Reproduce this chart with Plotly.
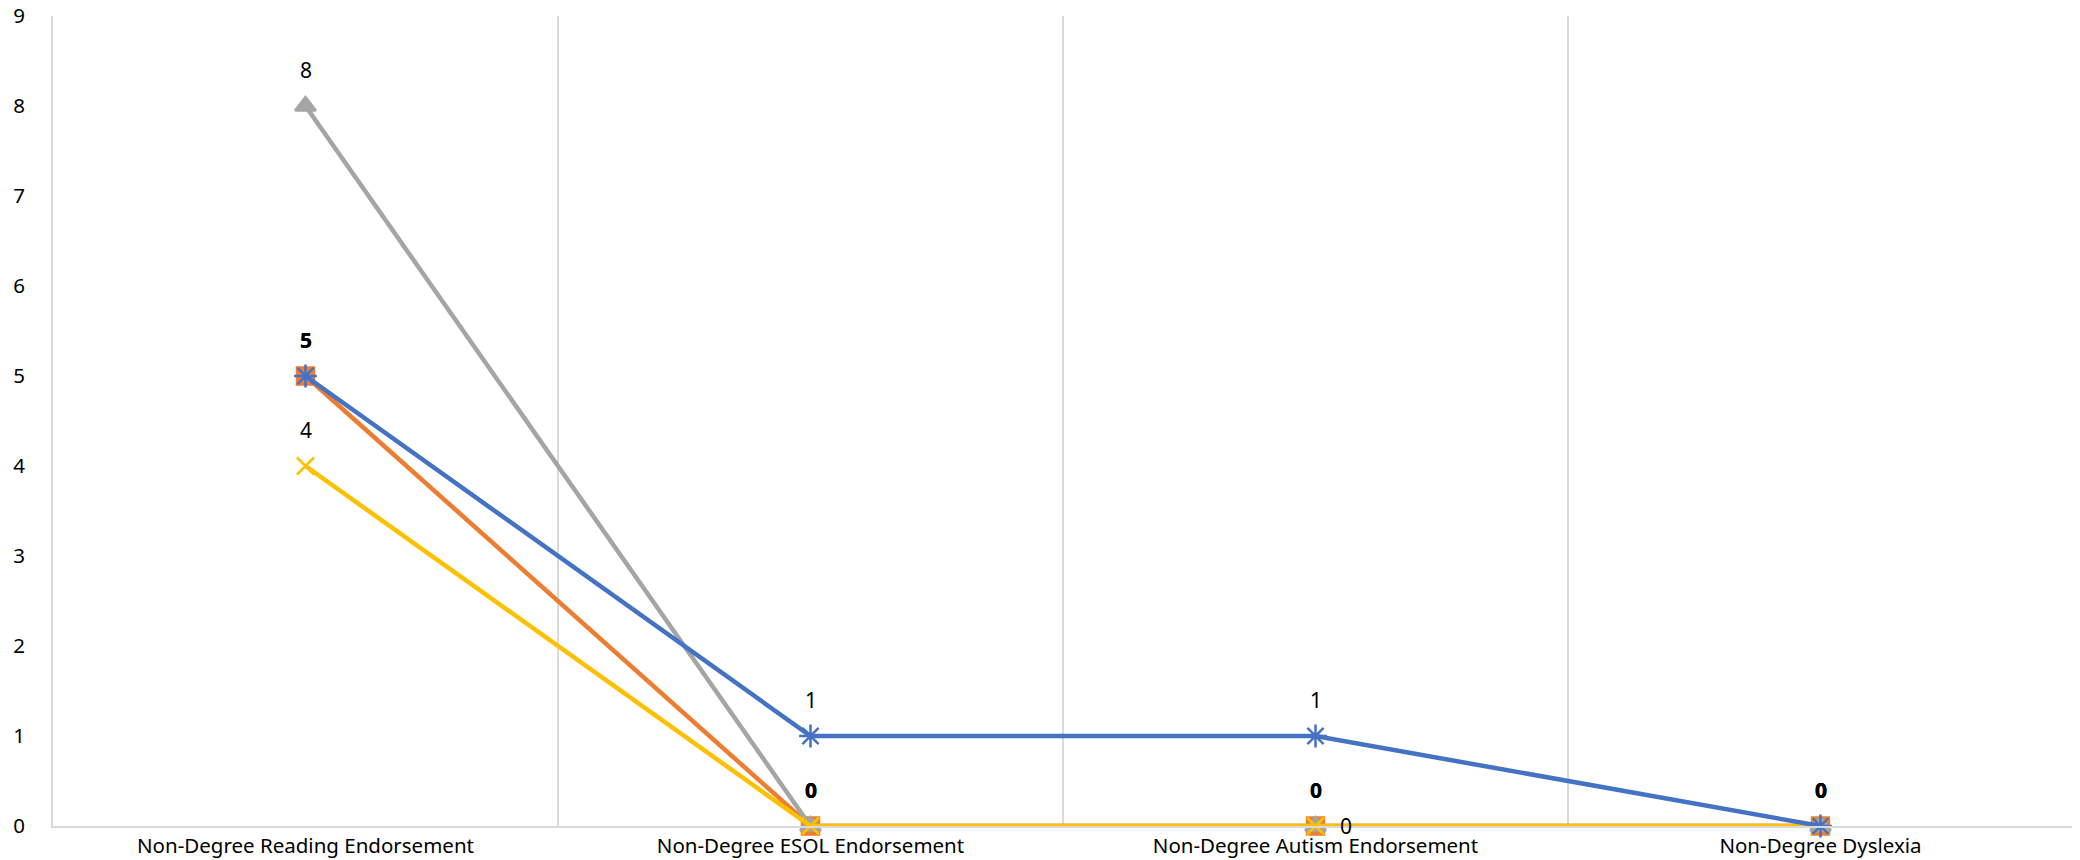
import plotly.graph_objects as go

categories = ["Non-Degree Reading Endorsement", "Non-Degree ESOL Endorsement",
              "Non-Degree Autism Endorsement", "Non-Degree Dyslexia"]
series_names = ["Series 2", "Series 3", "Series 4", "Series 1"]
orange_vals = [5, 0, 0, 0]
gray_vals = [8, 0, 0, 0]
yellow_vals = [4, 0, 0, 0]
blue_vals = [5, 1, 1, 0]
y_ticks = [0, 1, 2, 3, 4, 5, 6, 7, 8, 9]

FONT = "Noto Sans"
series = [
    dict(name=series_names[0], vals=orange_vals, color="#ED7D31", symbol="square", size=17),
    dict(name=series_names[1], vals=gray_vals, color="#A5A5A5", symbol="triangle-up", size=18),
    dict(name=series_names[2], vals=yellow_vals, color="#FFC000", symbol="x-thin", size=17),
    dict(name=series_names[3], vals=blue_vals, color="#4472C4", symbol="asterisk", size=19),
]

fig = go.Figure()
for s in series:
    fig.add_trace(go.Scatter(
        x=categories, y=s["vals"], mode="lines+markers", name=s["name"],
        line=dict(color=s["color"], width=4.5),
        marker=dict(symbol=s["symbol"], size=s["size"], color=s["color"],
                    line=dict(color=s["color"], width=2.5)),
        showlegend=False, cliponaxis=False,
    ))

# data labels
annotations = []
for ci, cat in enumerate(categories):
    vals_here = [s["vals"][ci] for s in series]
    for si, s in enumerate(series):
        v = s["vals"][ci]
        right = (s["name"] == "Series 3" and ci == 2)
        count = vals_here.count(v)
        bold = count > 1 and not right
        annotations.append(dict(
            x=cat, y=v, text=f"<b>{v}</b>" if bold else str(v), showarrow=False,
            xshift=30 if right else 0, yshift=0 if right else 36,
            font=dict(family=FONT, size=21, color="#000000"),
        ))

fig.update_layout(
    width=2080, height=860,
    margin=dict(l=45, r=15, t=8, b=42, autoexpand=False),
    paper_bgcolor="white", plot_bgcolor="white",
    annotations=annotations,
    font=dict(family=FONT, size=20.5, color="#000000"),
    xaxis=dict(type="category", tickson="boundaries", showgrid=True,
               gridcolor="#D9D9D9", gridwidth=2, showline=True, linecolor="#D9D9D9",
               linewidth=2, ticks="", range=[-0.5, 3.5], zeroline=False,
               tickfont=dict(family=FONT, size=20.5, color="#000000"), mirror=False),
    yaxis=dict(range=[0, 9], tickvals=y_ticks, showgrid=False, zeroline=False,
               showline=True, linecolor="#D9D9D9", linewidth=2, ticks="",
               ticklabelstandoff=22, ticklabeloverflow="allow",
               tickfont=dict(family=FONT, size=20.5, color="#000000")),
)
fig.write_html("out.html")
